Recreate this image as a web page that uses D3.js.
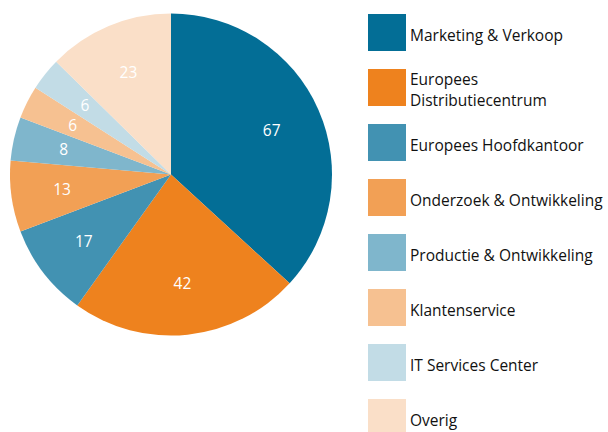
<!DOCTYPE html>
<html>
<head>
<meta charset="utf-8">
<script src="https://cdn.jsdelivr.net/npm/d3@7"></script>
<style>
    html, body { margin: 0; padding: 0; background: #fff; }
    svg { display: block; font-family: "Open Sans", "Noto Sans", sans-serif; }
</style>
</head>
<body>
<div id="chart"></div>
<script>
/*
 * Chart data.
 */
var categories = [
    ['Marketing & Verkoop'],
    ['Europees', 'Distributiecentrum'],
    ['Europees Hoofdkantoor'],
    ['Onderzoek & Ontwikkeling'],
    ['Productie & Ontwikkeling'],
    ['Klantenservice'],
    ['IT Services Center'],
    ['Overig']
];
var values = [67, 42, 17, 13, 8, 6, 6, 23];
var colors = ['#036e96', '#ee821e', '#4292b2', '#f2a055', '#7fb6cc', '#f6c191', '#c2dce6', '#fadfc8'];

var width = 608, height = 432;
var cx = 171, cy = 174.5, radius = 161;

var svg = d3.select('#chart').append('svg')
    .attr('width', width)
    .attr('height', height);

/*
 * Pie.
 */
var pie = d3.pie().sort(null).value(d => d);
var arc = d3.arc().innerRadius(0).outerRadius(radius);
var labelArc = d3.arc().innerRadius(110).outerRadius(110);

var g = svg.append('g').attr('transform', 'translate(' + cx + ',' + cy + ')');
var arcs = pie(values);

g.selectAll('path')
    .data(arcs)
    .enter().append('path')
    .attr('d', arc)
    .attr('fill', (d, i) => colors[i]);

g.selectAll('text')
    .data(arcs)
    .enter().append('text')
    .attr('transform', d => 'translate(' + labelArc.centroid(d) + ')')
    .attr('text-anchor', 'middle')
    .attr('dy', '0.35em')
    .attr('fill', '#fff')
    .style('font-size', '15.5px')
    .text(d => d.data);

/*
 * Legend.
 */
var legendY = d3.scaleBand()
    .domain(d3.range(categories.length))
    .range([14, 14 + 55 * categories.length]);

var legend = svg.selectAll('g.legend')
    .data(categories)
    .enter().append('g')
    .attr('class', 'legend')
    .attr('transform', (d, i) => 'translate(368,' + legendY(i) + ')');

legend.append('rect')
    .attr('width', 38)
    .attr('height', 37)
    .attr('fill', (d, i) => colors[i]);

/*
 * One text element per line, so wrapped labels keep clear boxes.
 */
legend.each(function(lines) {
    var item = d3.select(this);
    var top = lines.length > 1 ? 11 : 21.5;
    lines.forEach(function(line, j) {
        item.append('text')
            .attr('x', 42)
            .attr('y', top + j * 21)
            .attr('dy', '0.35em')
            .attr('fill', '#111')
            .style('font-size', '15.5px')
            .text(line);
    });
});
</script>
</body>
</html>
